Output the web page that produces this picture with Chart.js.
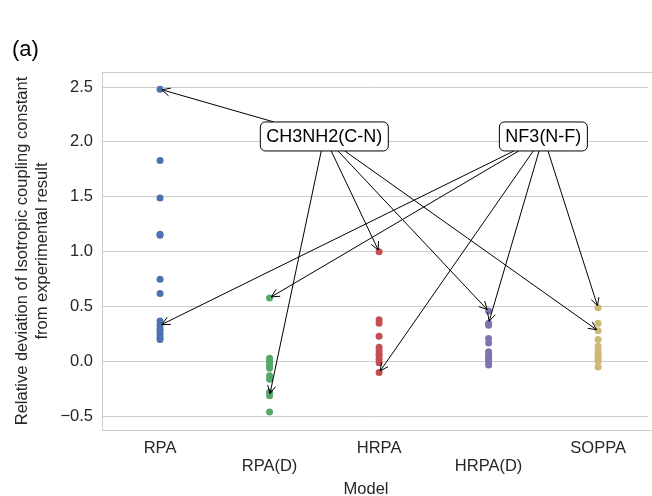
<!DOCTYPE html>
<html>
<head>
<meta charset="utf-8">
<script src="https://cdn.jsdelivr.net/npm/chart.js@4.4.1/dist/chart.umd.min.js"></script>
<style>
    html, body { margin: 0; padding: 0; background: #fff; }
</style>
</head>
<body>
<canvas id="graficoModelos" width="652" height="496"></canvas>
<script>
// models on the x axis, one strip of points each
var models = ['RPA', 'RPA(D)', 'HRPA', 'HRPA(D)', 'SOPPA']

var rpa = [2.48, 1.83, 1.49, 1.16, 1.15, 0.75, 0.62, 0.37, 0.33, 0.30, 0.28, 0.25, 0.22, 0.20]
var rpaD = [0.58, 0.03, 0.01, -0.01, -0.04, -0.06, -0.13, -0.16, -0.28, -0.31, -0.46]
var hrpa = [1.00, 0.38, 0.35, 0.23, 0.13, 0.10, 0.07, 0.05, 0.02, -0.01, -0.10]
var hrpaD = [0.46, 0.35, 0.33, 0.21, 0.17, 0.09, 0.06, 0.04, 0.02, 0.00, -0.03]
var soppa = [0.49, 0.35, 0.28, 0.20, 0.14, 0.10, 0.07, 0.05, 0.02, 0.00, -0.05]

var yTicks = [-0.5, 0, 0.5, 1, 1.5, 2, 2.5]

var series = [rpa, rpaD, hrpa, hrpaD, soppa]
var colors = ['#4C72B0', '#55A868', '#C44E52', '#8172B2', '#CCB974']

// arrows: [model, index of the point in that model's series]
var ch3nh2Arrows = [[0, 0], [1, 9], [2, 0], [3, 0], [4, 2]]
var nf3Arrows = [[0, 8], [1, 0], [2, 10], [3, 1], [4, 0]]

var notes = [
    { text: 'CH3NH2(C-N)', x: 1.5, y: 2.05, arrows: ch3nh2Arrows },
    { text: 'NF3(N-F)', x: 3.5, y: 2.05, arrows: nf3Arrows }
]

var FONT = '"Liberation Sans", Arial, sans-serif'
var TEXT = '#262626'

var datasets = series.map(function (valores, i) {
    return {
        label: models[i],
        data: valores.map(function (v) { return { x: i, y: v } }),
        backgroundColor: colors[i],
        borderWidth: 0,
        pointRadius: 3.5,
        pointHoverRadius: 3.5
    }
})

var notasPlugin = {
    id: 'notas',
    beforeDraw: function (chart) {
        var ctx = chart.ctx
        ctx.save()
        ctx.fillStyle = '#ffffff'
        ctx.fillRect(0, 0, chart.width, chart.height)
        ctx.restore()
    },
    beforeDatasetsDraw: function (chart) {
        // light frame round the plot
        var a = chart.chartArea, ctx = chart.ctx
        ctx.save()
        ctx.strokeStyle = '#cccccc'
        ctx.lineWidth = 1
        ctx.strokeRect(Math.round(a.left) + 0.5, Math.round(a.top) + 0.5, a.right - a.left + 4, Math.round(a.bottom - a.top))
        ctx.restore()
    },
    afterDatasetsDraw: function (chart) {
        var ctx = chart.ctx, xs = chart.scales.x, ys = chart.scales.y
        ctx.save()
        ctx.font = '18px ' + FONT
        notes.forEach(function (n) {
            var cx = xs.getPixelForValue(n.x), cy = ys.getPixelForValue(n.y)
            var w = ctx.measureText(n.text).width + 12, h = 29

            n.arrows.forEach(function (a) {
                var tx = xs.getPixelForValue(a[0])
                var ty = ys.getPixelForValue(series[a[0]][a[1]])
                var dx = tx - cx, dy = ty - cy
                var t = Math.min((w / 2) / Math.abs(dx), (h / 2) / Math.abs(dy))
                var sx = cx + dx * t, sy = cy + dy * t
                var len = Math.hypot(dx, dy), ux = dx / len, uy = dy / len
                var ex = tx - ux * 2, ey = ty - uy * 2
                ctx.strokeStyle = '#000000'
                ctx.lineWidth = 1
                ctx.beginPath()
                ctx.moveTo(sx, sy)
                ctx.lineTo(ex, ey)
                ctx.stroke()
                // open arrow head
                var hl = 8, hw = 4
                ctx.beginPath()
                ctx.moveTo(ex - ux * hl - uy * hw, ey - uy * hl + ux * hw)
                ctx.lineTo(ex, ey)
                ctx.lineTo(ex - ux * hl + uy * hw, ey - uy * hl - ux * hw)
                ctx.stroke()
            })

            ctx.beginPath()
            ctx.roundRect(cx - w / 2, cy - h / 2, w, h, 5)
            ctx.fillStyle = '#ffffff'
            ctx.fill()
            ctx.strokeStyle = '#000000'
            ctx.stroke()
            ctx.fillStyle = '#000000'
            ctx.textAlign = 'center'
            ctx.textBaseline = 'middle'
            ctx.fillText(n.text, cx, cy + 1)
        })
        ctx.restore()
    },
    afterDraw: function (chart) {
        var ctx = chart.ctx
        ctx.save()
        ctx.fillStyle = TEXT
        ctx.textBaseline = 'alphabetic'
        ctx.font = '16.5px ' + FONT
        ctx.textAlign = 'center'
        ctx.fillText('Model', 366, 494)
        ctx.fillStyle = '#000000'
        ctx.font = '22px ' + FONT
        ctx.textAlign = 'left'
        ctx.fillText('(a)', 12, 56)
        ctx.restore()
    }
}

var ctx = document.getElementById('graficoModelos')

var graficoModelos = new Chart(ctx, {
    type: 'scatter',
    data: { datasets: datasets },
    plugins: [notasPlugin],
    options: {
        responsive: false,
        animation: false,
        devicePixelRatio: 1,
        layout: { padding: { top: 72, left: 0, right: 0, bottom: 0 } },
        plugins: {
            legend: { display: false },
            tooltip: { enabled: false }
        },
        scales: {
            x: {
                type: 'linear',
                min: -0.53,
                max: 4.46,
                afterBuildTicks: function (s) {
                    s.ticks = models.map(function (m, i) { return { value: i } })
                },
                afterFit: function (s) { s.height = 66 },
                grid: { display: false, drawTicks: false },
                border: { display: false },
                ticks: {
                    padding: 9,
                    color: TEXT,
                    autoSkip: false,
                    maxRotation: 0,
                    font: { size: 16.5, family: FONT, lineHeight: 1.1 },
                    callback: function (v) {
                        return v % 2 ? ['', models[v]] : models[v]
                    }
                }
            },
            y: {
                min: -0.623,
                max: 2.637,
                afterBuildTicks: function (s) {
                    s.ticks = yTicks.map(function (v) { return { value: v } })
                },
                afterFit: function (s) { s.width = 102 },
                grid: { color: '#cccccc', lineWidth: 1, drawTicks: false },
                border: { display: false },
                ticks: {
                    padding: 9,
                    color: TEXT,
                    font: { size: 16.5, family: FONT },
                    callback: function (v) {
                        return (v < 0 ? '\u2212' : '') + Math.abs(v).toFixed(1)
                    }
                },
                title: {
                    display: true,
                    text: ['Relative deviation of Isotropic coupling constant', 'from experimental result'],
                    color: TEXT,
                    font: { size: 16.5, family: FONT, lineHeight: 1.25 },
                    padding: { top: 12, bottom: 0 }
                }
            }
        }
    }
});
</script>
</body>
</html>
